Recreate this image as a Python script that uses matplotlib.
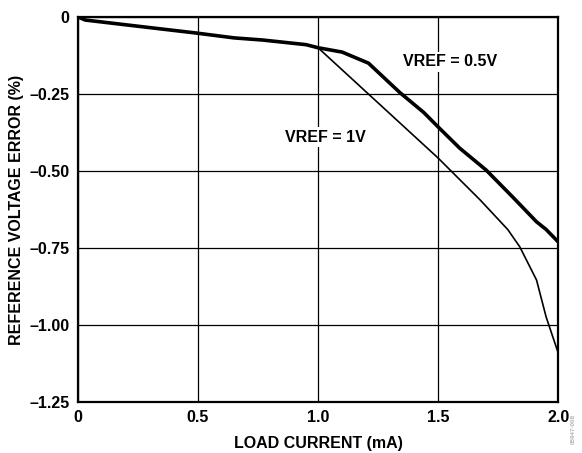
import matplotlib.pyplot as plt

plt.rcParams['font.family'] = ['Liberation Sans', 'DejaVu Sans']
plt.rcParams['font.weight'] = 'bold'

# VREF = 0.5V (thick curve)
load_05 = [0.0, 0.03, 0.27, 0.49, 0.65, 0.77, 0.95, 1.0, 1.1, 1.21, 1.34, 1.44, 1.5, 1.59, 1.70, 1.81, 1.91, 1.95, 2.0]
err_05 = [0.0, -0.01, -0.032, -0.052, -0.068, -0.075, -0.09, -0.10, -0.114, -0.15, -0.245, -0.31, -0.357, -0.426, -0.497, -0.584, -0.665, -0.69, -0.73]

# VREF = 1V (thin curve)
load_1 = [0.0, 0.03, 0.27, 0.49, 0.65, 0.77, 0.95, 1.0, 1.5, 1.675, 1.79, 1.84, 1.91, 1.95, 2.0]
err_1 = [0.0, -0.01, -0.032, -0.052, -0.068, -0.075, -0.09, -0.10, -0.458, -0.594, -0.69, -0.746, -0.854, -0.974, -1.09]

xticks = [0, 0.5, 1.0, 1.5, 2.0]
xtick_labels = ["0", "0.5", "1.0", "1.5", "2.0"]
yticks = [0, -0.25, -0.5, -0.75, -1.0, -1.25]
ytick_labels = ["0", "\u20130.25", "\u20130.50", "\u20130.75", "\u20131.00", "\u20131.25"]

fig = plt.figure(figsize=(5.82, 4.53), dpi=100)
ax = fig.add_axes([0.134, 0.1126, 0.825, 0.85])

ax.plot(load_05, err_05, color="black", linewidth=2.6, solid_joinstyle="round", zorder=3)
ax.plot(load_1, err_1, color="black", linewidth=1.2, zorder=3)

ax.set_xlim(0, 2.0)
ax.set_ylim(-1.25, 0)
ax.set_xticks(xticks)
ax.set_xticklabels(xtick_labels)
ax.set_yticks(yticks)
ax.set_yticklabels(ytick_labels)
ax.tick_params(length=0, labelsize=11.5, pad=6)
ax.grid(True, color="black", linewidth=0.9)
for s in ax.spines.values():
    s.set_linewidth(1.6)

ax.set_xlabel("LOAD CURRENT (mA)", fontsize=11.5, fontweight="bold", labelpad=8)
ax.set_ylabel("REFERENCE VOLTAGE ERROR (%)", fontsize=11.5, fontweight="bold", labelpad=4)

box = dict(facecolor="white", edgecolor="none", pad=2)
ax.text(1.55, -0.146, "VREF = 0.5V", fontsize=11.5, fontweight="bold", ha="center", va="center", bbox=box, zorder=4)
ax.text(1.03, -0.39, "VREF = 1V", fontsize=11.5, fontweight="bold", ha="center", va="center", bbox=box, zorder=4)

fig.text(0.985, 0.02, "05947-008", fontsize=4.5, color="#b0b0b0", rotation=90, ha="center", va="bottom")

plt.savefig("out.png", dpi=100)
plt.close()
